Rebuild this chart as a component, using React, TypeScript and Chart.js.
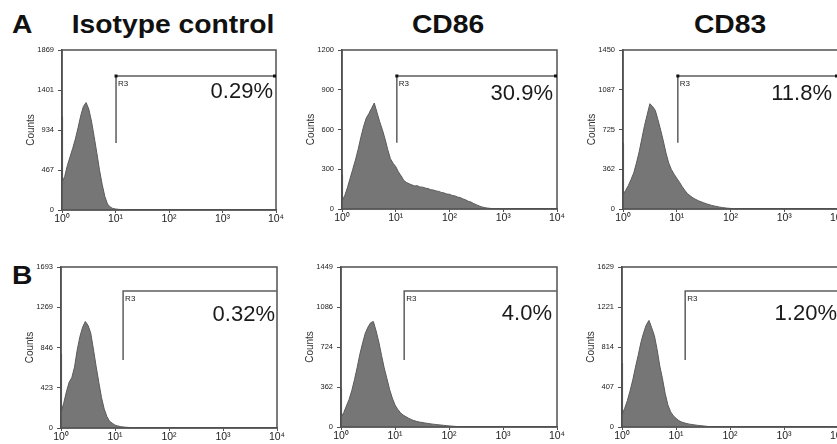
import { useEffect, useRef } from 'react';
import { Chart, registerables } from 'chart.js';

Chart.register(...registerables);

// ---------- data ----------
const decades = [0, 0.01, 0.05, 0.1, 0.15, 0.2, 0.25, 0.3, 0.35, 0.4, 0.45, 0.5, 0.55, 0.6, 0.65, 0.7, 0.75, 0.8, 0.85, 0.9, 0.95, 1.0, 1.05, 1.1, 1.15, 1.2, 1.25, 1.3, 1.35, 1.4, 1.45, 1.5, 1.55, 1.6, 1.65, 1.7, 1.75, 1.8, 1.85, 1.9, 1.95, 2.0, 2.05, 2.1, 2.15, 2.2, 2.25, 2.3, 2.35, 2.4, 2.45, 2.5, 2.55, 2.6, 2.65, 2.7, 2.75, 2.8, 2.85, 2.9, 2.95, 3.0];

const countsIsotypeA = [1090, 340, 390, 520, 620, 720, 830, 960, 1100, 1210, 1255, 1180, 1040, 860, 670, 470, 300, 160, 70, 35, 18, 12, 8, 5, 3, 2, 0];
const countsCD86A = [258, 70, 100, 160, 230, 300, 370, 450, 540, 620, 685, 720, 760, 800, 730, 660, 600, 530, 450, 380, 345, 320, 280, 250, 215, 200, 190, 182, 174, 176, 166, 165, 158, 154, 146, 143, 136, 133, 125, 121, 113, 111, 102, 99, 90, 86, 76, 69, 58, 52, 41, 32, 23, 16, 11, 7, 5, 3, 2, 1, 0];
const countsCD83A = [600, 140, 170, 215, 270, 330, 420, 520, 640, 760, 860, 960, 935, 900, 815, 720, 620, 510, 420, 360, 318, 280, 245, 205, 170, 140, 120, 102, 88, 76, 66, 57, 48, 40, 33, 27, 22, 17, 13, 10, 7, 5, 3, 1, 0];
const countsIsotypeB = [780, 180, 260, 380, 480, 530, 640, 820, 960, 1060, 1120, 1080, 1000, 830, 650, 480, 320, 200, 120, 70, 50, 30, 22, 15, 11, 8, 6, 4, 2, 0];
const countsCD86B = [350, 95, 130, 190, 250, 330, 430, 540, 660, 760, 850, 905, 945, 955, 870, 770, 650, 535, 440, 340, 262, 200, 160, 130, 108, 94, 80, 68, 58, 51, 45, 41, 37, 33, 29, 26, 23, 20, 18, 15, 13, 10, 8, 6, 4, 2, 1, 0];
const countsCD83B = [650, 140, 190, 270, 370, 480, 610, 730, 860, 960, 1040, 1085, 1010, 930, 790, 620, 490, 340, 225, 155, 115, 88, 66, 52, 42, 35, 29, 25, 21, 17, 14, 11, 8, 5, 3, 1, 0];

const yTicksIsotypeA = [0, 467, 934, 1401, 1869];
const yTicksCD86A = [0, 300, 600, 900, 1200];
const yTicksCD83A = [0, 362, 725, 1087, 1450];
const yTicksIsotypeB = [0, 423, 846, 1269, 1693];
const yTicksCD86B = [0, 362, 724, 1086, 1449];
const yTicksCD83B = [0, 407, 814, 1221, 1629];

const xTickValues = [0, 1, 2, 3, 4];
const xTickLabels = ['10⁰', '10¹', '10²', '10³', '10⁴'];

const gateStarts = [1.01, 1.02, 1.02, 1.15, 1.17, 1.17];
const gateTops = [1565, 1004, 1213, 1441, 1232, 1385];
const gateBottoms = [783, 500, 605, 715, 607, 682];
const gateName = 'R3';
const gatePercents = ['0.29%', '30.9%', '11.8%', '0.32%', '4.0%', '1.20%'];

const columnTitles = ['Isotype control', 'CD86', 'CD83'];
const rowLabels = ['A', 'B'];

const panelCounts = [countsIsotypeA, countsCD86A, countsCD83A, countsIsotypeB, countsCD86B, countsCD83B];
const panelYTicks = [yTicksIsotypeA, yTicksCD86A, yTicksCD83A, yTicksIsotypeB, yTicksCD86B, yTicksCD83B];

// ---------- layout (pixel geometry of each plot area) ----------
const panelLayout = [
  { left: 62, top: 50, width: 214, height: 160, squares: true, labelDy: 22, labelInset: 3 },
  { left: 342, top: 50, width: 215, height: 159, squares: true, labelDy: 24, labelInset: 4 },
  { left: 623, top: 50, width: 215, height: 159, squares: true, labelDy: 24, labelInset: 6 },
  { left: 61, top: 267, width: 216, height: 161, squares: false, labelDy: 30, labelInset: 2 },
  { left: 341, top: 267, width: 216, height: 160, squares: false, labelDy: 29, labelInset: 5 },
  { left: 622, top: 267, width: 216, height: 160, squares: false, labelDy: 29, labelInset: 1 },
];
const titleCenters = [173, 448, 730];
const titleTop = 12;
const rowLabelTops = [12, 263];

const Y_AXIS_W = 42;
const X_AXIS_H = 24;
const PAD_T = 12;
const PAD_R = 14;
const FONT = "'Liberation Sans', Arial, Helvetica, sans-serif";
const AXIS_COLOR = '#505050';

function Histogram({ idx }: { idx: number }) {
  const ref = useRef<HTMLCanvasElement>(null);
  const lay = panelLayout[idx];
  const cw = Y_AXIS_W + lay.width + PAD_R;
  const ch = PAD_T + lay.height + X_AXIS_H;

  useEffect(() => {
    const counts = panelCounts[idx];
    const yTicks = panelYTicks[idx];
    const gatePlugin = {
      id: 'gate' + idx,
      afterDraw(chart: any) {
        const { ctx, chartArea, scales } = chart;
        ctx.save();
        // frame
        ctx.strokeStyle = AXIS_COLOR;
        ctx.lineWidth = 1.5;
        ctx.strokeRect(chartArea.left, chartArea.top, chartArea.right - chartArea.left, chartArea.bottom - chartArea.top);
        // gate
        const gx = scales.x.getPixelForValue(gateStarts[idx]);
        const gt = scales.y.getPixelForValue(gateTops[idx]);
        const gb = scales.y.getPixelForValue(gateBottoms[idx]);
        const gr = chartArea.right;
        ctx.strokeStyle = '#5e5e5e';
        ctx.lineWidth = 1.5;
        ctx.beginPath();
        ctx.moveTo(gx, gb);
        ctx.lineTo(gx, gt);
        ctx.lineTo(gr, gt);
        ctx.stroke();
        if (lay.squares) {
          ctx.fillStyle = '#111';
          ctx.fillRect(gx - 1.5, gt - 1.5, 3, 3);
          ctx.fillRect(gr - 3, gt - 1.5, 3, 3);
        }
        ctx.fillStyle = '#222';
        ctx.font = `8px ${FONT}`;
        ctx.textAlign = 'left';
        ctx.textBaseline = 'top';
        ctx.fillText(gateName, gx + 2, gt + 4);
        ctx.font = `22px ${FONT}`;
        ctx.textAlign = 'right';
        ctx.textBaseline = 'alphabetic';
        ctx.fillStyle = '#1a1a1a';
        ctx.fillText(gatePercents[idx], chartArea.right - lay.labelInset, gt + lay.labelDy);
        ctx.restore();
      },
    };

    const chart = new Chart(ref.current as HTMLCanvasElement, {
      type: 'line',
      data: {
        datasets: [
          {
            data: counts.map((c, i) => ({ x: decades[i], y: c })),
            fill: 'origin',
            backgroundColor: '#767676',
            borderColor: '#5a5a5a',
            borderWidth: 1,
            pointRadius: 0,
            tension: 0,
          },
        ],
      },
      options: {
        animation: false,
        responsive: false,
        maintainAspectRatio: false,
        events: [],
        layout: { padding: { top: PAD_T, right: PAD_R, left: 0, bottom: 0 } },
        plugins: { legend: { display: false }, tooltip: { enabled: false }, title: { display: false } },
        scales: {
          x: {
            type: 'linear',
            min: 0,
            max: 4,
            afterBuildTicks: (s: any) => {
              s.ticks = xTickValues.map((v) => ({ value: v }));
            },
            afterFit: (s: any) => {
              s.height = X_AXIS_H;
            },
            ticks: {
              autoSkip: false,
              maxRotation: 0,
              padding: 0,
              color: '#222',
              font: { family: FONT, size: 10.5 },
              callback: (v: any) => xTickLabels[xTickValues.indexOf(Number(v))],
            },
            grid: { drawOnChartArea: false, drawTicks: true, tickLength: 3, color: AXIS_COLOR, lineWidth: 1 },
            border: { display: true, color: AXIS_COLOR, width: 1.5 },
          },
          y: {
            type: 'linear',
            min: 0,
            max: yTicks[yTicks.length - 1],
            afterBuildTicks: (s: any) => {
              s.ticks = yTicks.map((v) => ({ value: v }));
            },
            afterFit: (s: any) => {
              s.width = Y_AXIS_W;
            },
            ticks: {
              autoSkip: false,
              padding: 4,
              color: '#222',
              font: { family: FONT, size: 7.5 },
              callback: (v: any) => String(v),
            },
            grid: { drawOnChartArea: false, drawTicks: true, tickLength: 4, color: AXIS_COLOR, lineWidth: 1 },
            border: { display: true, color: AXIS_COLOR, width: 1.5 },
            title: {
              display: true,
              text: 'Counts',
              color: '#333',
              font: { family: FONT, size: 10 },
              padding: { top: 5, bottom: 0 },
            },
          },
        },
      },
      plugins: [gatePlugin],
    });
    return () => chart.destroy();
  }, [idx]);

  return (
    <canvas
      ref={ref}
      width={cw}
      height={ch}
      style={{ position: 'absolute', left: lay.left - Y_AXIS_W, top: lay.top - PAD_T, width: cw, height: ch }}
    />
  );
}

export default function App() {
  const titleStyle = {
    position: 'absolute' as const,
    width: 260,
    textAlign: 'center' as const,
    fontFamily: FONT,
    fontWeight: 'bold' as const,
    fontSize: 25,
    lineHeight: '25px',
    color: '#111',
    transform: 'scaleX(1.13)',
    transformOrigin: 'center',
    whiteSpace: 'nowrap' as const,
  };
  const rowStyle = {
    position: 'absolute' as const,
    left: 12,
    fontFamily: FONT,
    fontWeight: 'bold' as const,
    fontSize: 25,
    lineHeight: '25px',
    color: '#111',
    transform: 'scaleX(1.13)',
    transformOrigin: 'left',
  };
  return (
    <div
      style={{
        position: 'fixed',
        left: 0,
        top: 0,
        width: 837,
        height: 444,
        overflow: 'hidden',
        background: '#fff',
      }}
    >
      {columnTitles.map((t, i) => (
        <div key={t} style={{ ...titleStyle, left: titleCenters[i] - 130, top: titleTop }}>
          {t}
        </div>
      ))}
      {rowLabels.map((r, i) => (
        <div key={r} style={{ ...rowStyle, top: rowLabelTops[i] }}>
          {r}
        </div>
      ))}
      {panelLayout.map((_, i) => (
        <Histogram key={i} idx={i} />
      ))}
    </div>
  );
}
